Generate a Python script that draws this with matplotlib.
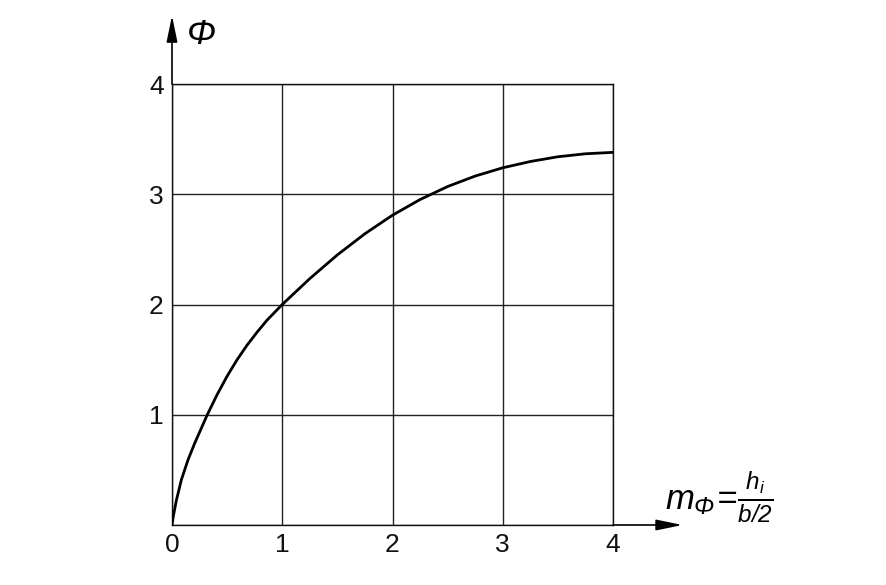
import matplotlib
matplotlib.use('Agg')
import matplotlib.pyplot as plt

plt.rcParams['font.family'] = ['Liberation Sans', 'DejaVu Sans']
plt.rcParams['mathtext.fontset'] = 'custom'
plt.rcParams['mathtext.rm'] = 'Liberation Sans:italic'
plt.rcParams['mathtext.it'] = 'Liberation Sans:italic'
plt.rcParams['mathtext.bf'] = 'Liberation Sans:bold'

# values
m_phi = [0, 0.012, 0.04, 0.085, 0.145, 0.206, 0.266, 0.32, 0.408, 0.5, 0.589,
         0.68, 0.771, 0.862, 1.0, 1.25, 1.5, 1.75, 2.0, 2.25, 2.5, 2.75,
         3.0, 3.25, 3.5, 3.75, 4.0]
phi = [0, 0.08, 0.225, 0.41, 0.59, 0.742, 0.878, 1.0, 1.18, 1.35, 1.497,
       1.63, 1.748, 1.858, 2.0, 2.235, 2.45, 2.642, 2.81, 2.952, 3.07, 3.165,
       3.24, 3.297, 3.34, 3.367, 3.38]
ticks = [0, 1, 2, 3, 4]
ytick_labels = ['', '1', '2', '3', '4']

W, H = 886, 585
fig = plt.figure(figsize=(W / 100, H / 100), dpi=100)
ax = fig.add_axes([172 / W, (H - 525) / H, 441 / W, 441 / H])

ax.plot(m_phi, phi, color='black', lw=2.0, solid_joinstyle='round',
        solid_capstyle='round', zorder=3)

ax.set_xlim(0, 4)
ax.set_ylim(0, 4)
ax.set_xticks(ticks)
ax.set_yticks(ticks)
ax.set_xticklabels([str(t) for t in ticks])
ax.set_yticklabels(ytick_labels)
ax.tick_params(length=0, labelsize=19, pad=6, colors='#111111')
ax.grid(True, color='#222222', lw=1.0)
for s in ax.spines.values():
    s.set_color('#111111')
    s.set_linewidth(1.0)

# axis arrows
arrow = dict(arrowstyle='-|>,head_length=1.6,head_width=0.33', color='black',
             lw=1.2, shrinkA=0, shrinkB=0, mutation_scale=10)
ax.annotate('', xy=(0, 4.62), xytext=(0, 4), xycoords='data',
            arrowprops=arrow, annotation_clip=False)
ax.annotate('', xy=(4.63, 0), xytext=(4, 0), xycoords='data',
            arrowprops=arrow, annotation_clip=False)

ax.text(0.265, 4.45, 'Φ', fontsize=25, style='italic', ha='center', va='center',
        clip_on=False)
ax.text(4.47, 0.25, r'$m_{\Phi}\!=\!\frac{h_i}{b/2}$', fontsize=25,
        ha='left', va='center', clip_on=False)

fig.savefig('out.png', dpi=100, facecolor='white')
